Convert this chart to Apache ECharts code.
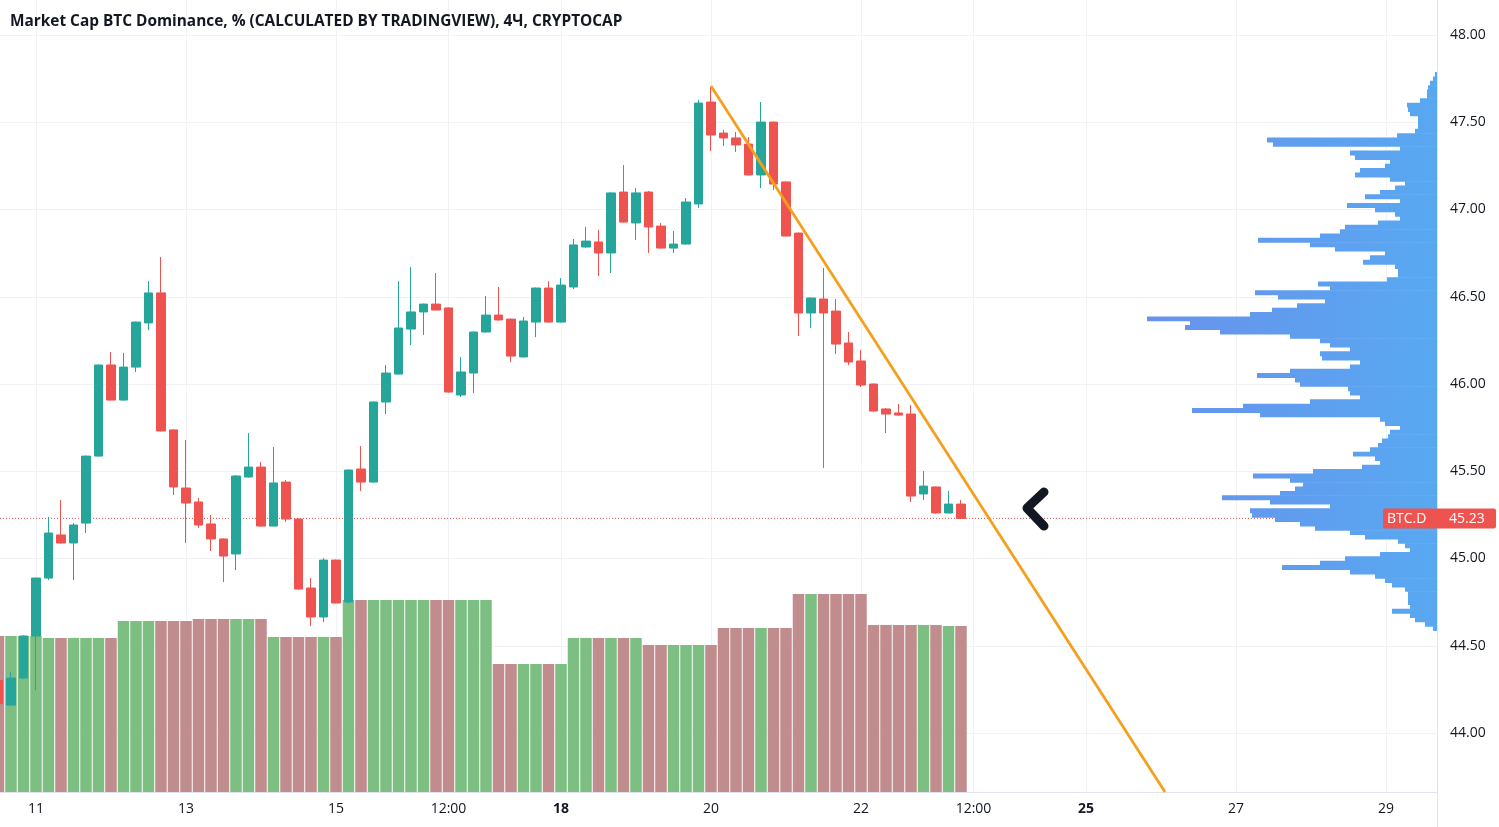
<!DOCTYPE html>
<html><head><meta charset="utf-8">
<script src="https://cdn.jsdelivr.net/npm/echarts@6/dist/echarts.min.js"></script>
<style>html,body{margin:0;padding:0;background:#fff}#c{width:1499px;height:827px}</style>
</head><body><div id="c"></div>
<script>
// ---------- data ----------
const titleText = 'Market Cap BTC Dominance, % (CALCULATED BY TRADINGVIEW), 4Ч, CRYPTOCAP';
const symbolName = 'BTC.D';
const firstCandle = '2021-10-10T12:00:00Z';   // 4h candles
const candleHours = 4;
const opens  = [44.30,44.16,44.315,44.556,44.888,45.135,45.089,45.203,45.587,46.109,45.908,46.097,46.350,46.522,45.737,45.404,45.324,45.198,45.112,45.026,45.467,45.524,45.186,45.438,45.226,44.831,44.665,44.991,44.751,45.513,45.438,45.897,46.057,46.315,46.413,46.458,46.436,45.937,46.063,46.298,46.395,46.372,46.155,46.355,46.550,46.355,46.556,46.785,46.814,46.751,47.100,46.923,47.100,46.905,46.779,46.802,47.032,47.616,47.438,47.410,47.375,47.198,47.501,47.158,46.865,46.407,46.487,46.418,46.235,46.132,46.000,45.857,45.834,45.828,45.370,45.410,45.261,45.312];
const closes = [44.17,44.315,44.556,44.888,45.146,45.089,45.192,45.587,46.109,45.908,46.097,46.355,46.522,45.731,45.410,45.318,45.192,45.112,45.014,45.473,45.524,45.186,45.433,45.226,44.825,44.665,44.991,44.745,45.507,45.438,45.897,46.063,46.321,46.413,46.458,46.424,45.954,46.069,46.298,46.395,46.367,46.160,46.361,46.550,46.355,46.567,46.797,46.819,46.751,47.095,46.928,47.095,46.900,46.779,46.802,47.043,47.610,47.427,47.410,47.370,47.198,47.501,47.146,46.848,46.407,46.493,46.407,46.229,46.126,45.994,45.845,45.828,45.822,45.358,45.415,45.261,45.312,45.230];
const lows   = [44.15,44.155,44.31,44.246,44.877,45.085,44.877,45.146,45.585,45.905,45.905,46.069,46.309,45.728,45.364,45.089,45.175,45.043,44.865,44.934,45.464,45.183,45.183,45.209,44.822,44.613,44.636,44.742,44.742,45.387,45.435,45.828,46.054,46.223,46.281,46.421,45.951,45.926,45.948,46.295,46.364,46.126,46.152,46.269,46.352,46.352,46.544,46.782,46.619,46.636,46.925,46.825,46.751,46.776,46.751,46.799,47.009,47.335,47.364,47.330,47.195,47.123,47.112,46.845,46.275,46.321,45.519,46.172,46.109,45.983,45.842,45.719,45.819,45.324,45.335,45.258,45.258,45.227];
const highs  = [44.33,44.35,44.56,44.89,45.238,45.335,45.203,45.59,46.112,46.183,46.178,46.358,46.590,46.728,45.74,45.679,45.347,45.249,45.115,45.478,45.719,45.553,45.639,45.45,45.229,44.888,45.002,44.994,45.51,45.645,45.90,46.109,46.590,46.670,46.461,46.636,46.439,46.155,46.301,46.504,46.556,46.375,46.384,46.553,46.590,46.607,46.831,46.900,46.883,47.098,47.255,47.123,47.106,46.923,46.877,47.066,47.628,47.702,47.456,47.444,47.415,47.616,47.504,47.161,46.868,46.496,46.665,46.487,46.298,46.195,46.003,45.862,45.885,45.880,45.501,45.413,45.387,45.335];
const volumes = [19.7,19.7,19.7,19.7,
  19.44,19.44,19.44,19.44,19.44,19.44, 21.59,21.59,21.59,21.59,21.59,21.59,
  21.84,21.84,21.84,21.84,21.84,21.84, 19.57,19.57,19.57,19.57,19.57,19.57,
  24.24,24.24,24.24,24.24,24.24,24.24, 24.24,24.24,24.24,24.24,24.24,24.24,
  16.16,16.16,16.16,16.16,16.16,16.16, 19.44,19.44,19.44,19.44,19.44,19.44,
  18.56,18.56,18.56,18.56,18.56,18.56, 20.71,20.71,20.71,20.71,20.71,20.71,
  25.0,25.0,25.0,25.0,25.0,25.0, 21.09,21.09,21.09,21.09,21.09,21.09, 20.96,20.96];
const lastPrice = 45.23;
const priceTicks = [44.00,44.50,45.00,45.50,46.00,46.50,47.00,47.50,48.00];
const timeTicks = ['2021-10-11T00:00Z','2021-10-13T00:00Z','2021-10-15T00:00Z','2021-10-16T12:00Z','2021-10-18T00:00Z','2021-10-20T00:00Z','2021-10-22T00:00Z','2021-10-23T12:00Z','2021-10-25T00:00Z','2021-10-27T00:00Z','2021-10-29T00:00Z'];
const timeTickLabels = ['11','13','15','12:00','18','20','22','12:00','25','27','29'];
const boldTickLabels = ['18','25'];
// volume profile (visible range), rows from the top
const profileTop = 47.7875;
const profileStep = 0.025;
const profileVol = [2,4,7,9,10,10,17,30,29,27,19,19,19,22,40,170,164,37,87,82,47,52,77,82,47,32,42,57,72,37,90,62,42,37,59,92,97,117,179,127,102,52,67,74,42,39,39,50,119,107,182,159,112,140,165,187,290,247,252,217,147,117,107,87,117,115,77,87,147,180,142,137,89,87,77,127,194,245,177,57,52,37,47,49,55,59,67,84,62,57,75,124,184,147,134,142,157,215,167,107,187,185,162,137,122,87,72,39,32,27,57,92,117,155,87,62,52,45,32,29,29,29,27,45,27,22,12,4];
const trendLine = [['2021-10-20T00:00Z', 47.708], ['2021-10-26T01:17Z', 43.662]];
const markerPoint = ['2021-10-24T05:07Z', 45.289];
// viewport
const viewStart = '2021-10-10T12:29Z', viewEnd = '2021-10-29T16:19Z';
const priceMin = 43.662, priceMax = 48.2006;

// ---------- build ----------
const UP = '#26a69a', DOWN = '#ef5350';
const VOL_UP = '#7dbe83', VOL_DOWN = '#c08c8d';
const FONT = 'Open Sans, Noto Sans, sans-serif';
const t0 = Date.parse(firstCandle), H = 3600e3;
const times = opens.map((_, i) => t0 + i * candleHours * H);
const candleData = times.map((t, i) => [t, opens[i], closes[i], lows[i], highs[i]]);
const volData = times.map((t, i) => ({value: [t, volumes[i]], itemStyle: {color: closes[i] >= opens[i] ? VOL_UP : VOL_DOWN}}));
const tickMs = timeTicks.map(s => Date.parse(s));
const profileData = profileVol.map((v, k) => [v, profileTop - profileStep * (k + 0.5)]);
const profileShare = 0.2018;
const xMin = Date.parse(viewStart), xMax = Date.parse(viewEnd);

const chart = echarts.init(document.getElementById('c'), null, {renderer: 'canvas'});
const profileGrad = new echarts.graphic.LinearGradient(1150, 0, 1437, 0,
  [{offset: 0, color: '#6892ec'}, {offset: 1, color: '#58a8f1'}], true);

chart.setOption({
  animation: false,
  backgroundColor: '#ffffff',
  title: {text: titleText, left: 10, top: 14, padding: 0,
    textStyle: {fontSize: 15.4, fontWeight: 'bold', color: '#131722', fontFamily: FONT}},
  grid: {left: 0, right: 62, top: 0, bottom: 35, containLabel: false},
  xAxis: [{
    type: 'value', min: xMin, max: xMax, scale: true,
    axisLine: {show: true, onZero: false, lineStyle: {color: '#e0e3eb'}},
    axisTick: {show: false, customValues: tickMs},
    splitLine: {show: true, lineStyle: {color: '#f0f2f6'}},
    axisLabel: {customValues: tickMs, margin: 10, fontSize: 14, color: '#131722', fontFamily: FONT,
      formatter: function (v) {
        const i = tickMs.indexOf(v);
        const s = i >= 0 ? timeTickLabels[i] : '';
        return boldTickLabels.indexOf(s) >= 0 ? '{b|' + s + '}' : s;
      },
      rich: {b: {fontWeight: 'bold', fontSize: 14, color: '#131722', fontFamily: FONT}}}
  }, {
    type: 'value', gridIndex: 0, position: 'top', inverse: true, show: false,
    min: 0, max: Math.max.apply(null, profileVol) / profileShare, splitLine: {show: false}
  }],
  yAxis: [{
    type: 'value', position: 'right', min: priceMin, max: priceMax, scale: true,
    axisLine: {show: true, onZero: false, lineStyle: {color: '#e0e3eb'}},
    axisTick: {show: false, customValues: priceTicks},
    splitLine: {show: true, lineStyle: {color: '#f0f2f6'}},
    axisLabel: {customValues: priceTicks, margin: 13, fontSize: 14, color: '#131722', fontFamily: FONT,
      padding: [3, 0, 0, 0], formatter: v => v.toFixed(2)}
  }, {
    type: 'value', min: 0, max: 100, show: false, splitLine: {show: false}
  }],
  series: [{
    name: 'last', type: 'line', data: [[xMin, lastPrice], [xMax, lastPrice]],
    symbol: 'none', silent: true, z: 1,
    lineStyle: {color: '#d9534f', width: 1, type: [1, 2]}
  }, {
    name: 'Volume', type: 'bar', xAxisIndex: 0, yAxisIndex: 1, data: volData,
    barWidth: 11.5, z: 1, silent: true
  }, {
    name: symbolName, type: 'candlestick', data: candleData, encode: {x: 0, y: [1, 2, 3, 4]},
    barWidth: 9, z: 3,
    itemStyle: {color: UP, color0: DOWN, borderColor: UP, borderColor0: DOWN, borderWidth: 1}
  }, {
    name: 'VPVR', type: 'custom', xAxisIndex: 1, yAxisIndex: 0, data: profileData, z: 4, silent: true,
    clip: true,
    renderItem: function (params, api) {
      const v = api.value(0), p = api.value(1);
      const a = api.coord([v, p + profileStep / 2]);
      const b = api.coord([0, p - profileStep / 2]);
      return {type: 'rect',
        shape: {x: Math.min(a[0], b[0]), y: Math.min(a[1], b[1]), width: Math.abs(b[0] - a[0]), height: Math.abs(b[1] - a[1]) + 0.6},
        style: {fill: profileGrad}};
    }
  }, {
    name: 'trend', type: 'line', data: trendLine.map(d => [Date.parse(d[0]), d[1]]),
    symbol: 'none', silent: true, z: 5, lineStyle: {color: '#f4a01d', width: 2.8}
  }]
});

function drawOverlay() {
  const y = chart.convertToPixel({yAxisIndex: 0}, lastPrice);
  const xr = chart.convertToPixel({xAxisIndex: 0}, xMax);
  const yb = chart.convertToPixel({yAxisIndex: 0}, priceMin);
  const m = chart.convertToPixel({xAxisIndex: 0, yAxisIndex: 0}, [Date.parse(markerPoint[0]), markerPoint[1]]);
  chart.setOption({graphic: [
    {type: 'line', shape: {x1: xr + 0.5, y1: yb, x2: xr + 0.5, y2: 827}, style: {stroke: '#e0e3eb', lineWidth: 1}, silent: true},
    {type: 'rect', shape: {x: xr - 54, y: y - 10, width: 113, height: 20, r: 2}, style: {fill: DOWN}, z: 20},
    {type: 'text', x: xr - 50, y: y + 1, style: {text: symbolName, fill: '#ffffff', fontSize: 14, fontFamily: FONT, verticalAlign: 'middle'}, z: 21},
    {type: 'text', x: xr + 12, y: y + 1, style: {text: lastPrice.toFixed(2), fill: '#ffffff', fontSize: 14, fontFamily: FONT, verticalAlign: 'middle'}, z: 21},
    {type: 'polyline', shape: {points: [[m[0] + 17, m[1] - 16], [m[0], m[1]], [m[0] + 17, m[1] + 18]]},
      style: {stroke: '#131722', lineWidth: 9, lineCap: 'round', lineJoin: 'round', fill: null}, z: 22}
  ]});
}
drawOverlay();
</script></body></html>
